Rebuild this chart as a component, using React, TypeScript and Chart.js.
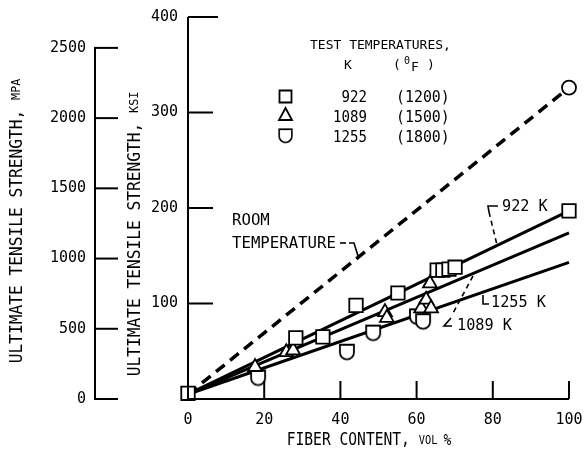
import React, { useEffect, useRef } from 'react';
import { Chart, registerables } from 'chart.js';

Chart.register(...registerables);

const FONT = '"DejaVu Sans Mono", monospace';

// Axis ticks
const X_TICKS = [0, 20, 40, 60, 80, 100];
const KSI_TICKS = [100, 200, 300, 400];
const MPA_TICKS = [0, 500, 1000, 1500, 2000, 2500];
const X_MAX = 100;
const KSI_MAX = 400;
const MPA_MAX = 2720;

// 922 K (1200 F) - squares
const SQ_X = [0, 28.3, 35.4, 44.1, 55.1, 65.4, 66.9, 68.5, 70.1, 100];
const SQ_Y = [6, 64, 65, 98, 111, 135, 135, 136, 138, 197];
// 1089 K (1500 F) - triangles
const TRI_X = [17.6, 25.8, 27.6, 51.7, 52.2, 61.2, 62.5, 63.8, 63.5];
const TRI_Y = [33.5, 49, 51, 91, 85, 95, 104, 95, 121];
// 1255 K (1800 F) - shields
const SH_X = [18.4, 41.7, 48.6, 60.1, 61.7];
const SH_Y = [22, 49, 69, 86, 81];
// Room temperature (dashed)
const ROOM_X = [0, 100];
const ROOM_Y = [5, 326];
// Fitted lines
const FIT_X = [0, 100];
const FIT_922 = [5, 197];
const FIT_1089 = [5, 174];
const FIT_1255 = [5, 143];

const LEGEND_K = ['922', '1089', '1255'];
const LEGEND_F = ['1200', '1500', '1800'];

const pts = (xs: number[], ys: number[]) => xs.map((x, i) => ({ x, y: ys[i] }));

function makeShield(w: number): HTMLCanvasElement {
  const c = document.createElement('canvas');
  const r = w / 2;
  const h = w * 0.55 + r;
  c.width = w + 4;
  c.height = Math.ceil(h) + 4;
  const g = c.getContext('2d')!;
  g.beginPath();
  g.moveTo(2, 2);
  g.lineTo(2 + w, 2);
  g.lineTo(2 + w, 2 + w * 0.55);
  g.arc(2 + r, 2 + w * 0.55, r, 0, Math.PI);
  g.closePath();
  g.fillStyle = '#fff';
  g.fill();
  g.lineWidth = 1.8;
  g.strokeStyle = '#000';
  g.stroke();
  return c;
}

function poly(ctx: CanvasRenderingContext2D, p: number[][], dash: number[] = []) {
  ctx.save();
  ctx.setLineDash(dash);
  ctx.beginPath();
  ctx.moveTo(p[0][0], p[0][1]);
  for (let i = 1; i < p.length; i++) ctx.lineTo(p[i][0], p[i][1]);
  ctx.stroke();
  ctx.restore();
}

function text(ctx: CanvasRenderingContext2D, s: string, x: number, y: number, size: number, align: CanvasTextAlign = 'left', sx = 1) {
  ctx.save();
  ctx.translate(x, y);
  ctx.scale(sx, 1);
  ctx.font = `${size}px ${FONT}`;
  ctx.textAlign = align;
  ctx.textBaseline = 'middle';
  ctx.fillText(s, 0, 0);
  ctx.restore();
}

function runs(ctx: CanvasRenderingContext2D, parts: [string, number][], cx: number, cy: number, sx: number, rot: number) {
  ctx.save();
  ctx.translate(cx, cy);
  ctx.rotate(rot);
  ctx.scale(sx, 1);
  let total = 0;
  const ws = parts.map(([s, size]) => {
    ctx.font = `${size}px ${FONT}`;
    const w = ctx.measureText(s).width;
    total += w;
    return w;
  });
  let x = -total / 2;
  ctx.textBaseline = 'middle';
  ctx.textAlign = 'left';
  parts.forEach(([s, size], i) => {
    ctx.font = `${size}px ${FONT}`;
    ctx.fillText(s, x, 0);
    x += ws[i];
  });
  ctx.restore();
}

export default function App() {
  const ref = useRef<HTMLCanvasElement | null>(null);

  useEffect(() => {
    if (!ref.current) return;
    const shield = makeShield(14);

    const decor = {
      id: 'decor',
      afterDraw(chart: any) {
        const { ctx } = chart;
        const xs = chart.scales.x;
        const ys = chart.scales.y;
        const y2 = chart.scales.y2;
        ctx.save();
        ctx.strokeStyle = '#000';
        ctx.fillStyle = '#000';
        ctx.lineWidth = 2;
        const x0 = xs.getPixelForValue(0);
        const x100 = xs.getPixelForValue(X_MAX);
        const yb = ys.getPixelForValue(0);
        const yt = ys.getPixelForValue(KSI_MAX);
        // main axes
        poly(ctx, [[x0, yt], [x0, yb], [x100, yb]]);
        X_TICKS.forEach((v) => {
          if (v === 0) return;
          const px = xs.getPixelForValue(v);
          poly(ctx, [[px, yb], [px, yb - 18]]);
        });
        KSI_TICKS.forEach((v) => {
          const py = ys.getPixelForValue(v);
          poly(ctx, [[x0, py], [x0 + (v === KSI_MAX ? 30 : 25), py]]);
        });
        // MPa axis
        const ax = y2.right - 25;
        poly(ctx, [[ax, y2.getPixelForValue(MPA_TICKS[MPA_TICKS.length - 1])], [ax, y2.getPixelForValue(0)]]);
        MPA_TICKS.forEach((v) => {
          const py = y2.getPixelForValue(v);
          poly(ctx, [[ax - 1, py], [ax + 23, py]]);
        });

        // axis titles
        runs(ctx, [['ULTIMATE TENSILE STRENGTH, ', 18], ['MPA', 13]], 17, 221, 0.9, -Math.PI / 2);
        runs(ctx, [['ULTIMATE TENSILE STRENGTH, ', 18], ['KSI', 13]], 135, 234, 0.9, -Math.PI / 2);
        runs(ctx, [['FIBER CONTENT, ', 17], ['VOL ', 12], ['%', 15]], 369, 441, 0.86, 0);

        // legend
        text(ctx, 'TEST TEMPERATURES,', 310, 46, 13);
        text(ctx, 'K', 348, 66, 13, 'center');
        text(ctx, '(', 397, 66, 13, 'center');
        text(ctx, '0', 407, 61, 10, 'center');
        text(ctx, 'F', 415, 68, 13, 'center');
        text(ctx, ')', 431, 66, 13, 'center');
        const rowsY = [98, 118, 138];
        ctx.lineWidth = 1.8;
        ctx.fillStyle = '#fff';
        // square
        ctx.beginPath();
        ctx.rect(279.5, 90.5, 12, 12);
        ctx.fill();
        ctx.stroke();
        // triangle
        ctx.beginPath();
        ctx.moveTo(285.5, 108);
        ctx.lineTo(292, 120);
        ctx.lineTo(279, 120);
        ctx.closePath();
        ctx.fill();
        ctx.stroke();
        ctx.drawImage(shield, 285.5 - (shield.width * 0.9) / 2, 136 - (shield.height * 0.9) / 2, shield.width * 0.9, shield.height * 0.9);
        ctx.fillStyle = '#000';
        LEGEND_K.forEach((s, i) => {
          text(ctx, s, 367, rowsY[i], 16, 'right', 0.88);
          text(ctx, '(' + LEGEND_F[i] + ')', 396, rowsY[i], 16, 'left', 0.93);
        });

        // annotations
        ctx.lineWidth = 1.6;
        text(ctx, 'ROOM', 232, 221, 16, 'left', 0.98);
        text(ctx, 'TEMPERATURE', 232, 244, 16, 'left', 0.98);
        poly(ctx, [[340, 243], [346, 243]]);
        poly(ctx, [[349, 243], [354, 243], [358, 256]]);

        text(ctx, '922 K', 502, 207, 16, 'left', 0.95);
        poly(ctx, [[498, 206], [488, 206], [489, 212]]);
        poly(ctx, [[489, 212], [497, 245]], [5, 4]);

        text(ctx, '1255 K', 491, 303, 16, 'left', 0.95);
        poly(ctx, [[483, 295], [483, 304], [489, 304]]);

        text(ctx, '1089 K', 457, 326, 16, 'left', 0.95);
        poly(ctx, [[473, 276], [452, 315]], [5, 4]);
        poly(ctx, [[451, 318], [444, 326], [452, 326]]);
        ctx.restore();
      },
    };

    const black = '#000';
    const tickFont = { family: FONT, size: 15 };
    const plain = (v: any) => String(v);
    const noPad = (s: any) => {
      s.paddingTop = 0;
      s.paddingBottom = 0;
      s.paddingLeft = 0;
      s.paddingRight = 0;
    };
    const chart = new Chart(ref.current, {
      type: 'scatter',
      data: {
        datasets: [
          {
            label: '922 K',
            data: pts(SQ_X, SQ_Y),
            pointStyle: 'rect',
            pointRadius: 9.5,
            backgroundColor: '#fff',
            borderColor: black,
            borderWidth: 1.8,
            clip: false,
          },
          {
            label: '1089 K',
            data: pts(TRI_X, TRI_Y),
            pointStyle: 'triangle',
            pointRadius: 8,
            backgroundColor: '#fff',
            borderColor: black,
            borderWidth: 1.8,
            clip: false,
          },
          {
            label: '1255 K',
            data: pts(SH_X, SH_Y),
            pointStyle: shield,
            backgroundColor: '#fff',
            borderColor: black,
            clip: false,
          },
          {
            label: 'Room temperature',
            data: pts(ROOM_X, ROOM_Y),
            showLine: true,
            borderColor: black,
            borderWidth: 3.5,
            borderDash: [11, 7],
            pointRadius: [0, 7],
            pointStyle: 'circle',
            pointBackgroundColor: '#fff',
            pointBorderColor: black,
            pointBorderWidth: 1.8,
            clip: false,
          },
          { label: 'fit 922', data: pts(FIT_X, FIT_922), showLine: true, borderColor: black, borderWidth: 3, pointRadius: 0, clip: false },
          { label: 'fit 1089', data: pts(FIT_X, FIT_1089), showLine: true, borderColor: black, borderWidth: 3, pointRadius: 0, clip: false },
          { label: 'fit 1255', data: pts(FIT_X, FIT_1255), showLine: true, borderColor: black, borderWidth: 3, pointRadius: 0, clip: false },
        ],
      },
      options: {
        responsive: false,
        animation: false,
        devicePixelRatio: 1,
        layout: { autoPadding: false, padding: { left: 0, right: 17, top: 17, bottom: 0 } },
        plugins: { legend: { display: false }, tooltip: { enabled: false } },
        scales: {
          x: {
            type: 'linear',
            min: 0,
            max: X_MAX,
            afterBuildTicks: (s: any) => { s.ticks = X_TICKS.map((value) => ({ value })); },
            afterFit: (s: any) => { s.height = 54; noPad(s); },
            grid: { display: false, drawTicks: false },
            border: { display: false },
            ticks: { color: black, font: tickFont, padding: 12, maxRotation: 0, callback: plain },
          },
          y: {
            type: 'linear',
            position: 'left',
            weight: 0,
            min: 0,
            max: KSI_MAX,
            afterBuildTicks: (s: any) => { s.ticks = KSI_TICKS.map((value) => ({ value })); },
            afterFit: (s: any) => { s.width = 68; noPad(s); },
            grid: { display: false, drawTicks: false },
            border: { display: false },
            ticks: { color: black, font: tickFont, padding: 10, callback: plain },
          },
          y2: {
            type: 'linear',
            position: 'left',
            weight: 1,
            min: 0,
            max: MPA_MAX,
            afterBuildTicks: (s: any) => { s.ticks = MPA_TICKS.map((value) => ({ value })); },
            afterFit: (s: any) => { s.width = 120; noPad(s); },
            grid: { display: false, drawTicks: false },
            border: { display: false },
            ticks: { color: black, font: tickFont, padding: 34, callback: plain },
          },
        },
      },
      plugins: [decor],
    } as any);
    return () => chart.destroy();
  }, []);

  return (
    <div style={{ position: 'fixed', left: 0, top: 0, width: 586, height: 453, background: '#fff' }}>
      <canvas ref={ref} width={586} height={453} style={{ display: 'block' }} />
    </div>
  );
}
